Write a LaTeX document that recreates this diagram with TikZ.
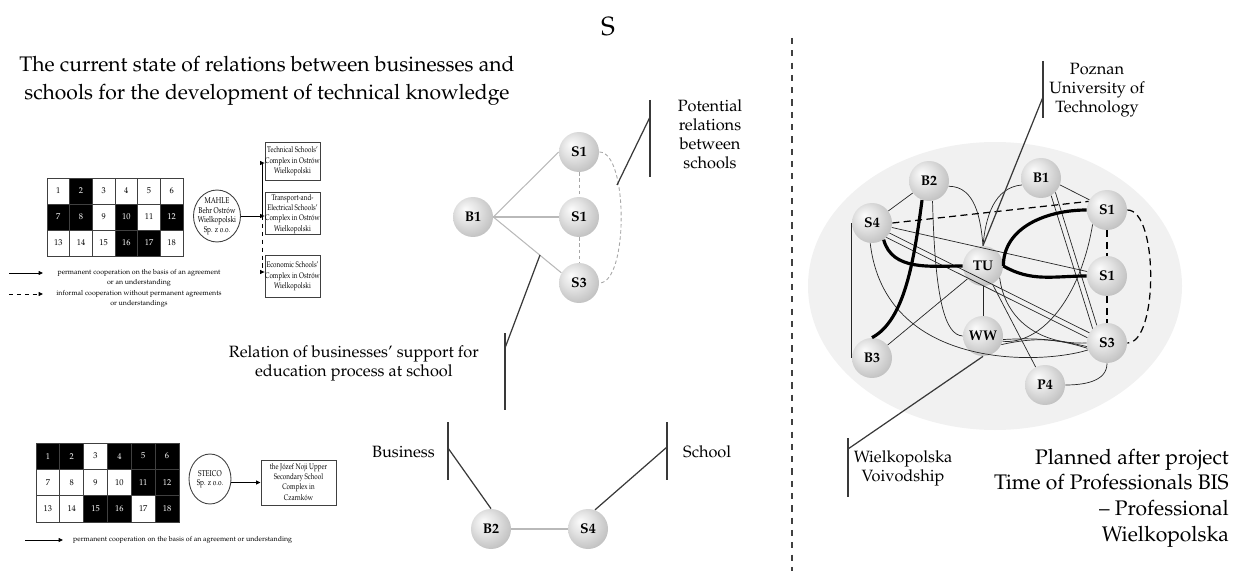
\documentclass[tikz,border=0pt]{standalone}
\usepackage[T1]{fontenc}
\usepackage{mathpazo}
\usetikzlibrary{arrows.meta,shapes.geometric}

\newcommand{\fs}[2]{\fontsize{#1}{#2}\selectfont}
\newcommand{\narrow}[1]{\scalebox{.78}[1]{\begin{tabular}{@{}c@{}}#1\end{tabular}}}
\pgfdeclareradialshading{orb}{\pgfpoint{-10bp}{10bp}}{%
    color(0bp)=(gray!3); color(14bp)=(gray!22); color(28bp)=(gray!45);
    color(40bp)=(gray!70); color(50bp)=(gray!90)}

\begin{document}
\begin{tikzpicture}[
        x = .02cm,
        y = -.02cm,
        ball/.style = {circle, shading=orb, minimum size=.8cm, inner sep=0pt,
            font=\fs{8}{8}\bfseries},
        cellw/.style = {draw=black!75, line width=.5pt, fill=white,
            minimum width=.453cm, minimum height=.52cm, inner sep=0pt,
            font=\fs{4.8}{5}},
        cellb/.style = {cellw, fill=black, text=white},
        firm/.style = {ellipse, draw=black!75, line width=.5pt, inner sep=-5pt,
            font=\fs{4.8}{5.6}},
        school/.style = {draw=black!75, line width=.5pt, inner sep=0pt,
            font=\fs{4.6}{5.9}},
        link/.style = {line width=.5pt, -{Triangle[length=2.5pt, width=2.2pt]}},
        legend/.style = {font=\fs{4}{5.7}, align=center},
        rel/.style = {gray!55, line width=.6pt},
        relpot/.style = {gray!70, line width=.5pt, dash pattern=on 2pt off 1.5pt},
        tie/.style = {black!85, line width=.4pt},
        tiestrong/.style = {black, line width=1.8pt},
        tieplan/.style = {black, line width=.7pt, dash pattern=on 4pt off 2.5pt},
        callout/.style = {gray!45!black, line width=.7pt},
        bar/.style = {gray!45!black, line width=1.1pt},
        caption/.style = {font=\fs{9.3}{10.8}, align=center}
    ]
    \useasboundingbox (0,0) rectangle (1244,571);

    % headings
    \node[font=\fs{15}{15}] (hs) at (608,27) {S};
    \node[font=\fs{12}{16}, align=center] (hleft) at (267,81)
        {The current state of relations between businesses and\\
         schools for the development of technical knowledge};
    \draw[gray!50!black, line width=.8pt, dash pattern=on 3.5pt off 3.5pt]
        (792,38) coordinate (dtop) -- (792,571) coordinate (dbot);

    % first company
    \foreach \n/\s in {1/cellw,2/cellb,3/cellw,4/cellw,5/cellw,6/cellw,
                       7/cellb,8/cellb,9/cellw,10/cellb,11/cellw,12/cellb,
                       13/cellw,14/cellw,15/cellw,16/cellb,17/cellb,18/cellw} {
        \pgfmathsetmacro\cx{47 + 22.67*(mod(\n-1,6)+.5)}
        \pgfmathsetmacro\cy{178 + 26*(floor((\n-1)/6)+.5)}
        \node[\s] (ga\n) at (\cx,\cy) {\n};
    }
    \node[firm, minimum width=.94cm, minimum height=1.04cm] (mahle) at (217,216)
        {\narrow{MAHLE\\Behr Ostr\'{o}w\\Wielkopolski\\Sp. z o.o.}};
    \node[school, minimum width=1.06cm, minimum height=.76cm] (sc1) at (292.5,161)
        {\narrow{Technical Schools'\\Complex in Ostr\'{o}w\\Wielkopolski}};
    \node[school, minimum width=1.06cm, minimum height=.82cm] (sc2) at (292.5,213.5)
        {\narrow{Transport-and-\\Electrical Schools'\\Complex in Ostr\'{o}w\\Wielkopolski}};
    \node[school, minimum width=1.06cm, minimum height=.84cm] (sc3) at (292.5,276)
        {\narrow{Economic Schools'\\Complex in Ostr\'{o}w\\Wielkopolski}};
    \coordinate (tr1) at (262,163);
    \coordinate (tr2) at (262,216);
    \coordinate (tr3) at (262,272);
    \draw[link] (mahle.east |- tr2) -- (sc2.west |- tr2);
    \draw[link] (tr2) -- (tr1) -- (sc1.west |- tr1);
    \draw[link, dash pattern=on 2.5pt off 2pt] (tr2) -- (tr3) -- (sc3.west |- tr3);

    \coordinate (la1) at (9,273);
    \coordinate (la2) at (43,273);
    \coordinate (lb1) at (9,294);
    \coordinate (lb2) at (43,294);
    \draw[link] (la1) -- (la2);
    \draw[link, dash pattern=on 2.5pt off 2pt] (lb1) -- (lb2);
    \node[legend] (lta) at (139,278)
        {permanent cooperation on the basis of an agreement\\or an understanding};
    \node[legend] (ltb) at (139,299)
        {informal cooperation without permanent agreements\\or understandings};

    % second company
    \foreach \n/\s in {1/cellb,2/cellb,3/cellw,4/cellb,5/cellb,6/cellb,
                       7/cellw,8/cellw,9/cellw,10/cellw,11/cellb,12/cellb,
                       13/cellw,14/cellw,15/cellb,16/cellb,17/cellw,18/cellb} {
        \pgfmathsetmacro\cx{36 + 23.83*(mod(\n-1,6)+.5)}
        \pgfmathsetmacro\cy{443 + 26.33*(floor((\n-1)/6)+.5)}
        \node[\s, minimum width=.476cm, minimum height=.527cm] (gb\n) at (\cx,\cy) {\n};
    }
    \node[firm, minimum width=.84cm, minimum height=1cm] (steico) at (210,479)
        {\narrow{STEICO\\Sp. z o.o.}};
    \node[school, minimum width=1.5cm, minimum height=.9cm] (sc4) at (298.5,482.5)
        {\narrow{the J\'{o}zef Noji Upper\\Secondary School\\Complex in\\Czarnk\'{o}w}};
    \draw[link] (steico.east |- sc4.west) -- (sc4.west);
    \coordinate (lc1) at (25,540);
    \coordinate (lc2) at (63,540);
    \draw[link] (lc1) -- (lc2);
    \node[legend, anchor=west] (ltc) at (67,540)
        {permanent cooperation on the basis of an agreement or understanding};

    % current relations
    \node[ball] (mB1) at (473,217) {B1};
    \node[ball] (mS1a) at (579,152) {S1};
    \node[ball] (mS1b) at (579,217) {S1};
    \node[ball] (mS3) at (579,283) {S3};
    \draw[rel] (mB1.east) -- (mS1a.west);
    \draw[rel] (mB1.east) -- (mS1b.west);
    \draw[rel] (mB1.east) -- (mS3.150);
    \draw[relpot] (mS1a) -- (mS1b);
    \draw[relpot] (mS1b) -- (mS3);
    \draw[relpot] (mS1a.east) to[out=0, in=0, looseness=.57] (mS3.east);

    \coordinate (potp) at (617,185);
    \coordinate (potb) at (650,117);
    \draw[callout] (potp) -- (potb);
    \draw[bar] (650,100) -- (650,177);
    \node[caption] (pot) at (710,134) {Potential\\relations\\between\\schools};

    \coordinate (supp) at (540,255);
    \coordinate (supb) at (505,348);
    \draw[callout] (supp) -- (supb);
    \draw[bar] (505,333) -- (505,410);
    \node[caption, anchor=east] (sup) at (485,363)
        {Relation of businesses' support for\\education process at school};

    \node[ball] (mB2) at (491,529) {B2};
    \node[ball] (mS4) at (588,529) {S4};
    \draw[rel] (mB2) -- (mS4);
    \coordinate (busb) at (448,448);
    \coordinate (schb) at (667,447);
    \draw[callout] (mB2.north) -- (busb);
    \draw[callout] (mS4.70) -- (schb);
    \draw[bar] (448,422) -- (448,480);
    \draw[bar] (667,422) -- (667,480);
    \node[caption, anchor=east] (bus) at (441,452) {Business};
    \node[caption, anchor=west] (sch) at (677,452) {School};

    % planned network
    \fill[gray!11] (995,286) ellipse [x radius=187, y radius=144];
    \node[ball] (rB2) at (929,181) {B2};
    \node[ball] (rB1) at (1041,178) {B1};
    \node[ball] (rS1a) at (1107,210) {S1};
    \node[ball] (rS4) at (872,223) {S4};
    \node[ball] (rTU) at (983,266) {TU};
    \node[ball] (rS1b) at (1107,276) {S1};
    \node[ball] (rWW) at (983,336) {WW};
    \node[ball] (rS3) at (1107,343) {S3};
    \node[ball] (rB3) at (872,358) {B3};
    \node[ball] (rP4) at (1045,385) {P4};

    \draw[tie] (rS4) -- (rB2);
    \draw[tie] (rS4.west) -- (rB3.west);
    \draw[tie] (rS4) -- (rS1b);
    \draw[tie] (rS4.-45) -- (rS3.165);
    \draw[tie] (rS4.-30) -- (rS3.150);
    \draw[tie] (rS4.-95) .. controls (885,370) and (1040,365) .. (rS3.200);
    \draw[tie] (rB2.-15) to[out=0, in=95] (rTU.north);
    \draw[tie] (rB2.-80) .. controls (935,300) and (945,335) .. (rWW.west);
    \draw[tie] (rB1.200) to[out=185, in=85] (rTU.north);
    \draw[tie] (rB1.-20) -- (rS1a.150);
    \draw[tie] (rB1.-45) -- (rS3.120);
    \draw[tie] (rB1.-60) -- (rS3.135);
    \draw[tie] (rS1a.225) .. controls (1080,300) and (1040,345) .. (rWW.-15);
    \draw[tie] (rTU) -- (rWW);
    \draw[tie] (rTU) -- (rB3);
    \draw[tie] (rTU) -- (rP4);
    \draw[tie] (rTU.-35) .. controls (1005,320) and (1040,345) .. (rS3.west);
    \draw[tie] (rWW.-10) to[bend left=8] (rS3.190);
    \draw[tie] (rWW.-25) to[bend left=15] (rS3.195);
    \draw[tie] (rP4.east) to[out=0, in=-90] (rS3.south);

    \draw[tiestrong] (rS4.-55) to[out=-75, in=180] (rTU.west);
    \draw[tiestrong] (rB2.250) .. controls (914,260) and (905,320) .. (rB3.north);
    \draw[tiestrong] (rTU.east) to[out=90, in=180] (rS1a.west);
    \draw[tiestrong] (rTU.east) to[out=-30, in=180] (rS1b.west);

    \draw[tieplan] (rS4.east) -- (rS1a.155);
    \draw[tieplan] (rS1a) -- (rS1b);
    \draw[tieplan] (rS1b) -- (rS3);
    \draw[tieplan] (rS1a.east) to[out=0, in=0, looseness=.6] (rS3.east);

    \coordinate (pozb) at (1043,97);
    \draw[callout] (rTU.north) -- (pozb);
    \draw[bar] (1043,61) -- (1043,118);
    \node[caption] (poz) at (1097,90) {Poznan\\University of\\Technology};

    \coordinate (wlkb) at (848,449);
    \draw[callout] (rWW.south) -- (wlkb);
    \draw[bar] (848,438) -- (848,497);
    \node[caption] (wlk) at (903,468) {Wielkopolska\\Voivodship};

    \node[font=\fs{12}{14.6}, align=right, anchor=east] (plan) at (1235,498)
        {Planned after project\\Time of Professionals BIS\\-- Professional\\Wielkopolska};
\end{tikzpicture}
\end{document}
